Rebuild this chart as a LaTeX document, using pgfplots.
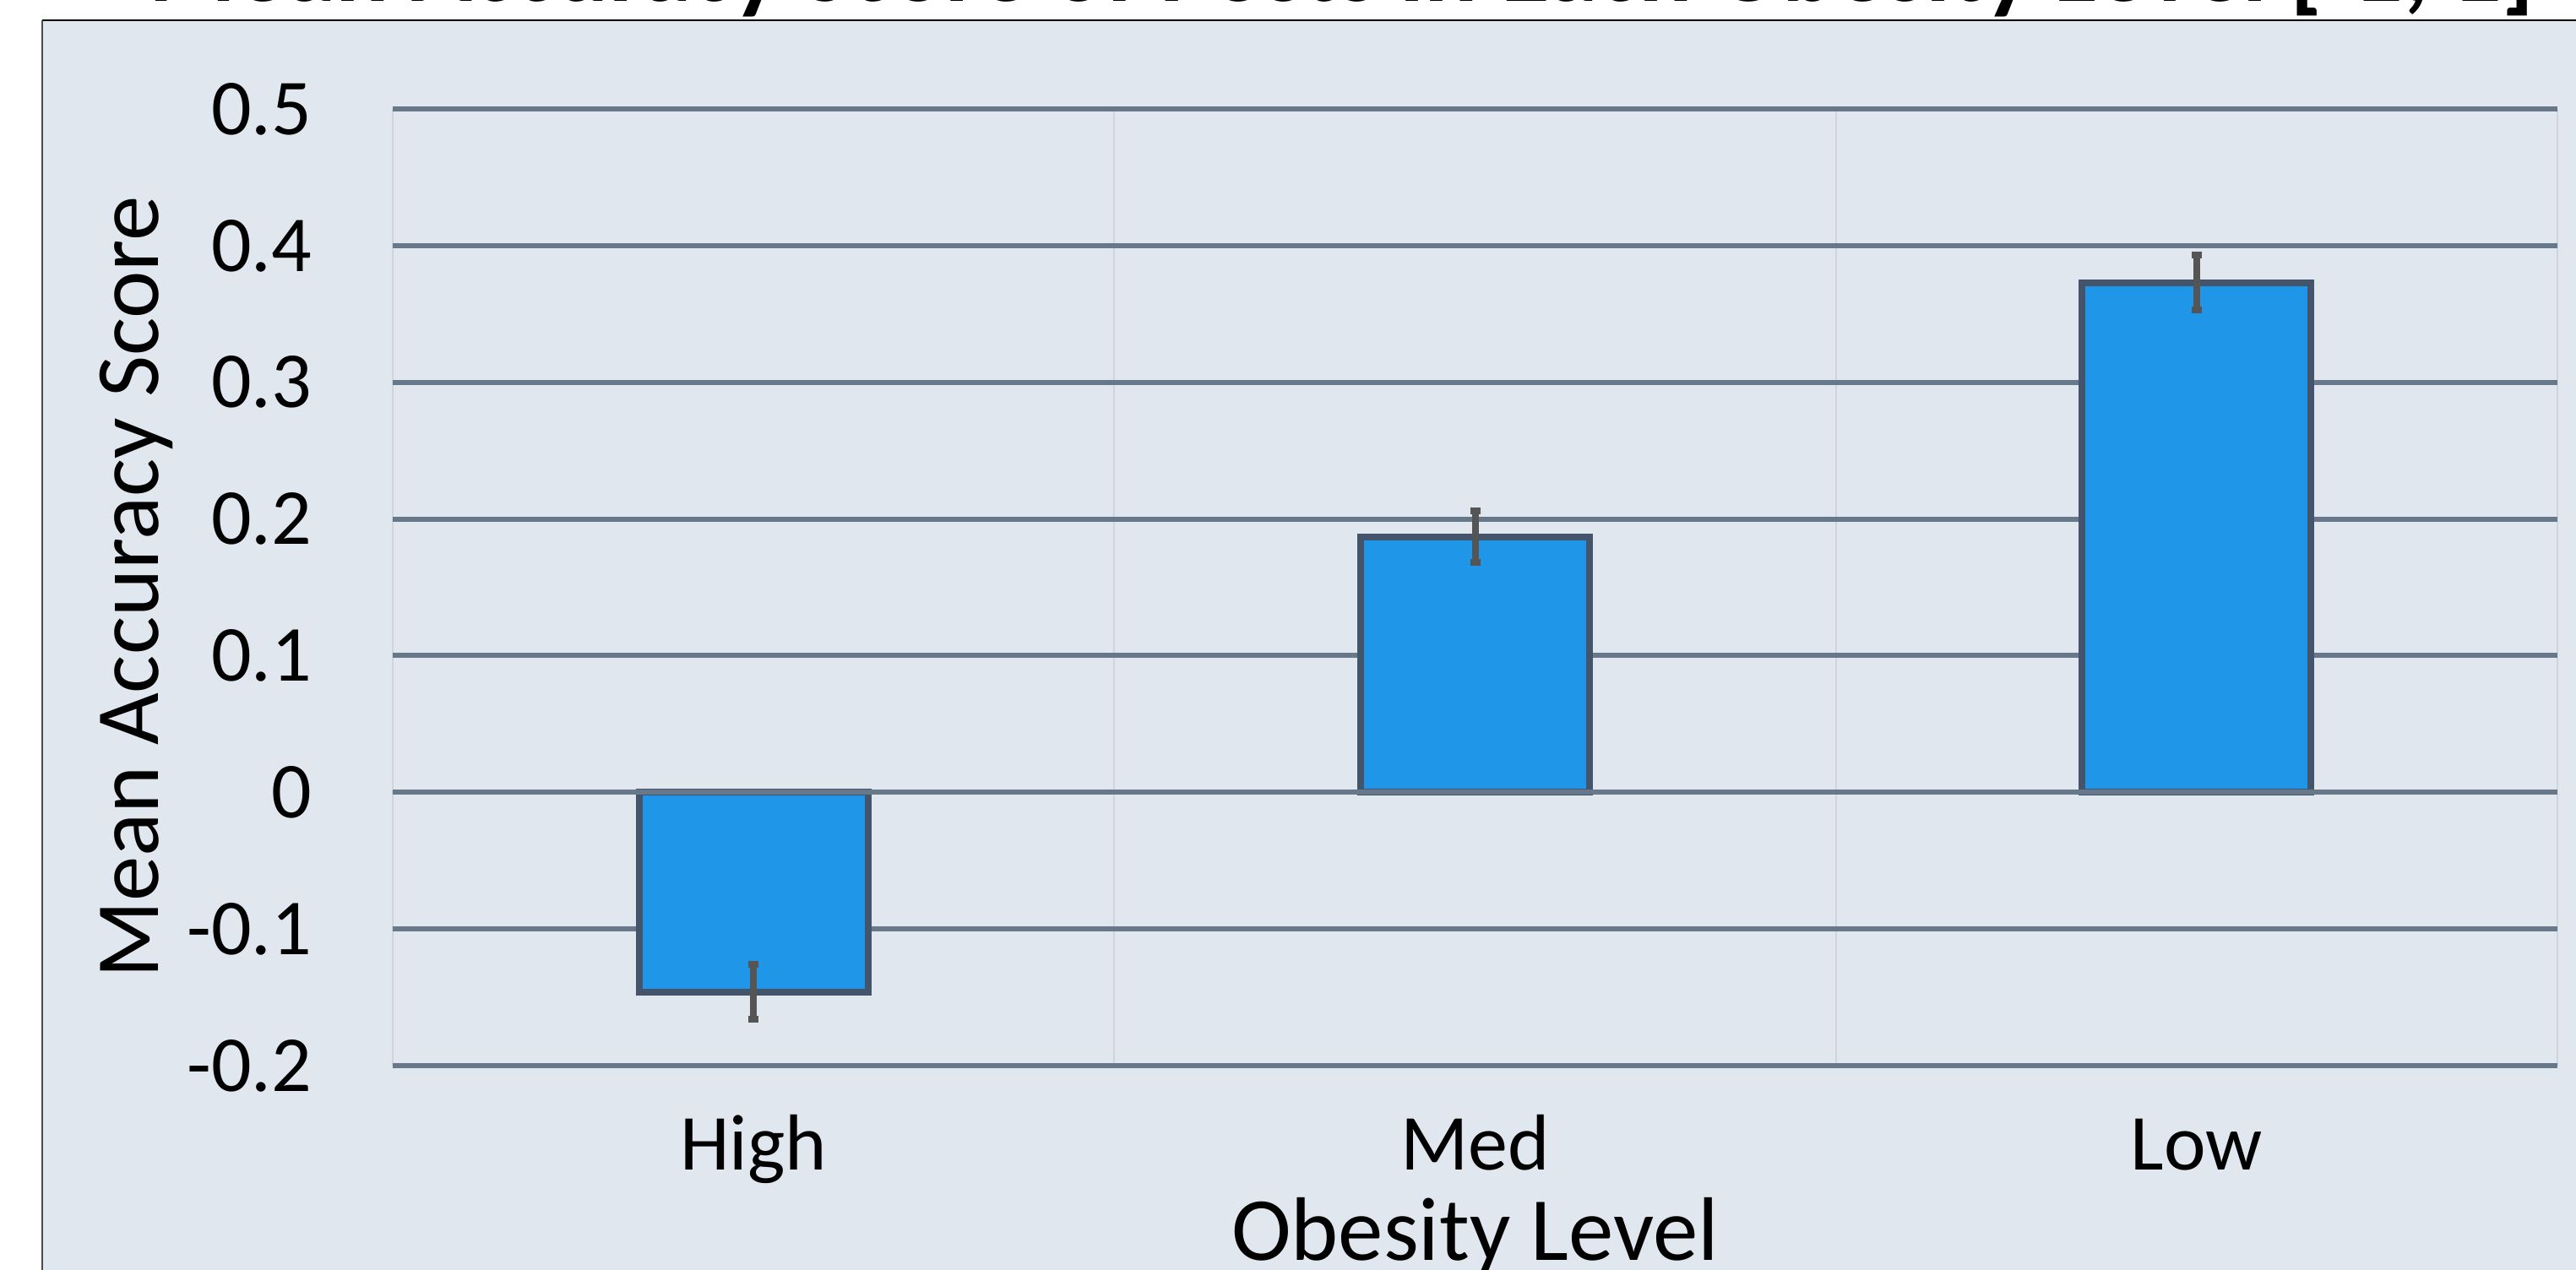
\documentclass[border=0pt]{standalone}
\usepackage{fontspec}
\setmainfont{Carlito}
\usepackage{graphicx}
\usepackage{pgfplots}
\pgfplotsset{compat=1.18}
\definecolor{bg}{HTML}{E0E7EE}
\definecolor{gridc}{HTML}{66788A}
\definecolor{vgrid}{HTML}{CFD5DB}
\definecolor{barfill}{HTML}{1F96E8}
\definecolor{barline}{HTML}{44546A}
\definecolor{errc}{HTML}{555555}
\begin{document}
\begin{tikzpicture}[x=1pt,y=1pt]
\useasboundingbox (0,0) rectangle (762.5,375.75);
\clip (0,0) rectangle (762.5,375.75);
\fill[white] (0,0) rectangle (762.5,375.75);
\fill[bg] (12.5,-5) rectangle (780,369.75);
\draw[black, line width=0.7pt] (12.5,369.75) -- (780,369.75);
\draw[gray!60!black, line width=0.5pt] (12.5,369.75) -- (12.5,-5);
\node[anchor=base west, inner sep=0pt] at (44,375.25)
  {\resizebox{706pt}{!}{\fontsize{28}{34}\selectfont\bfseries Mean Accuracy Score of Posts in Each Obesity Level [-1, 1]}};
\begin{axis}[
  at={(116.25pt,60.25pt)}, anchor=south west,
  scale only axis, width=640.75pt, height=283.25pt,
  xmin=0, xmax=3, ymin=-0.2, ymax=0.5,
  axis line style={draw=none},
  tick style={draw=none},
  xtick={0.5,1.5,2.5},
  xticklabels={High,Med,Low},
  minor xtick={0,1,2,3},
  xminorgrids=true,
  minor grid style={vgrid, line width=0.5pt},
  ytick={-0.2,-0.1,0,0.1,0.2,0.3,0.4,0.5},
  yticklabels={-0.2,-0.1,0,0.1,0.2,0.3,0.4,0.5},
  ymajorgrids=true,
  major grid style={gridc, line width=1.5pt},
  xmajorgrids=false,
  ticklabel style={font=\fontsize{23.5}{28}\selectfont},
  yticklabel style={anchor=east, inner sep=0pt, xshift=-23.75pt},
  xticklabel style={anchor=base, inner sep=0pt, yshift=-30.75pt},
  xlabel={Obesity Level},
  ylabel={Mean Accuracy Score},
  label style={font=\fontsize{26.7}{32}\selectfont},
  xlabel style={at={([yshift=-57.5pt]axis description cs:0.5,0)}, anchor=base, inner sep=0pt},
  ylabel style={at={([xshift=-69.25pt]axis description cs:0,0.5)}, anchor=base, inner sep=0pt, rotate=0},
]
\addplot[ybar, bar width=67.75pt, fill=barfill, draw=barline, line width=2pt,
  error bars/.cd, y dir=both, y explicit,
  error bar style={errc, line width=2pt},
  error mark options={errc, rotate=90, mark size=1.5pt, line width=2pt}]
  coordinates {(0.5,-0.146) +- (0,0.020) (1.5,0.187) +- (0,0.019) (2.5,0.373) +- (0,0.020)};
\addplot[gridc, line width=1.5pt] coordinates {(0,0) (3,0)};
\end{axis}
\end{tikzpicture}
\end{document}
